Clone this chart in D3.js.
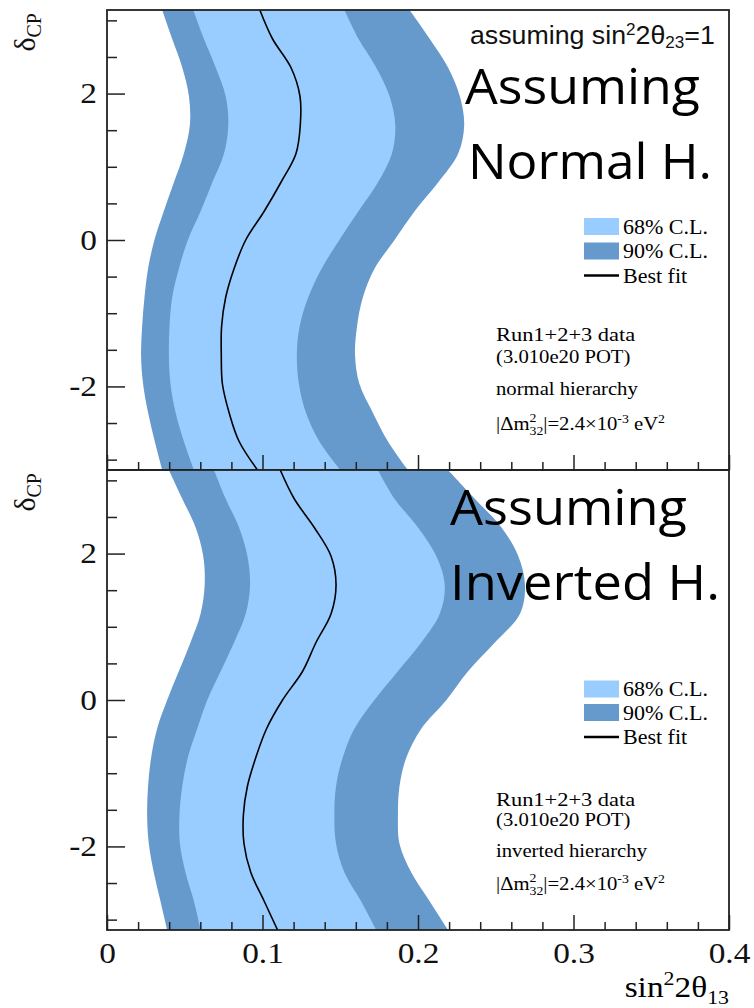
<!DOCTYPE html>
<html>
<head>
<meta charset="utf-8">
<script src="https://cdn.jsdelivr.net/npm/d3@7"></script>
<style>
  body { margin: 0; background: #fff; }
  svg { display: block; }
</style>
</head>
<body>
<svg id="chart" width="754" height="1008"></svg>
<script>
// delta_CP sample points (radians), from +pi down to -pi
const deltaGrid = [3.1416, 2.7489, 2.3562, 1.9635, 1.5708, 1.1781, 0.7854, 0.3927, 0,
  -0.3927, -0.7854, -1.1781, -1.5708, -1.9635, -2.3562, -2.7489, -3.1416];

// Normal hierarchy: sin^2(2 theta13) at each delta_CP
const nh90Left  = [0.0355, 0.0419, 0.0484, 0.0527, 0.0533, 0.0494, 0.0430, 0.0365, 0.0305, 0.0264, 0.0241, 0.0226, 0.0219, 0.0232, 0.0264, 0.0307, 0.0355];
const nh68Left  = [0.0555, 0.0623, 0.0699, 0.0763, 0.0780, 0.0752, 0.0677, 0.0602, 0.0520, 0.0462, 0.0419, 0.0402, 0.0398, 0.0408, 0.0441, 0.0494, 0.0559];
const nhBestFit = [0.0983, 0.1064, 0.1183, 0.1241, 0.1243, 0.1215, 0.1118, 0.1011, 0.0892, 0.0817, 0.0763, 0.0737, 0.0735, 0.0742, 0.0785, 0.0849, 0.0968];
const nh68Right = [0.1527, 0.1617, 0.1731, 0.1817, 0.1854, 0.1832, 0.1742, 0.1617, 0.1494, 0.1380, 0.1294, 0.1239, 0.1221, 0.1234, 0.1279, 0.1365, 0.1501];
const nh90Right = [0.1946, 0.2075, 0.2193, 0.2269, 0.2297, 0.2258, 0.2129, 0.1978, 0.1849, 0.1720, 0.1645, 0.1608, 0.1595, 0.1623, 0.1709, 0.1806, 0.1935];

// Inverted hierarchy
const ih90Left  = [0.0398, 0.0484, 0.0570, 0.0619, 0.0628, 0.0602, 0.0537, 0.0462, 0.0387, 0.0322, 0.0284, 0.0264, 0.0258, 0.0269, 0.0301, 0.0344, 0.0387];
const ih68Left  = [0.0688, 0.0763, 0.0849, 0.0903, 0.0920, 0.0892, 0.0817, 0.0731, 0.0645, 0.0580, 0.0520, 0.0484, 0.0466, 0.0469, 0.0505, 0.0559, 0.0602];
const ihBestFit = [0.1114, 0.1204, 0.1333, 0.1441, 0.1473, 0.1441, 0.1344, 0.1258, 0.1129, 0.1026, 0.0957, 0.0903, 0.0877, 0.0881, 0.0925, 0.1011, 0.1097];
const ih68Right = [0.1742, 0.1849, 0.2000, 0.2118, 0.2172, 0.2140, 0.2021, 0.1871, 0.1720, 0.1591, 0.1516, 0.1473, 0.1462, 0.1473, 0.1527, 0.1634, 0.1731];
const ih90Right = [0.2193, 0.2365, 0.2537, 0.2645, 0.2688, 0.2656, 0.2494, 0.2322, 0.2183, 0.2021, 0.1925, 0.1881, 0.1871, 0.1881, 0.1957, 0.2075, 0.2193];

// Axis ticks
const xTicks = [0, 0.1, 0.2, 0.3, 0.4];
const xMinorTicks = [0.02, 0.04, 0.06, 0.08, 0.12, 0.14, 0.16, 0.18, 0.22, 0.24, 0.26, 0.28, 0.32, 0.34, 0.36, 0.38];
const yTicks = [-2, 0, 2];
const yMinorTicks = [-3, -2.5, -1.5, -1, -0.5, 0.5, 1, 1.5, 2.5, 3];

const legendLabels = ["68% C.L.", "90% C.L.", "Best fit"];
const nhNotes = ["Run1+2+3 data", "(3.010e20 POT)", "normal hierarchy"];
const ihNotes = ["Run1+2+3 data", "(3.010e20 POT)", "inverted hierarchy"];

const C90 = "#6699cc", C68 = "#99ccff";
const SERIF = "'Liberation Serif', 'Times New Roman', serif";
const SX = 1.15; // horizontal stretch of serif lettering

const svg = d3.select("#chart");
const x = d3.scaleLinear().domain([0, 0.4]).range([107, 729]);

const panels = [
  { id: "nh", top: 10, bottom: 470,
    lo90: nh90Left, lo68: nh68Left, best: nhBestFit, hi68: nh68Right, hi90: nh90Right,
    title: ["Assuming", "Normal H."], titleX: [465, 468], titleY: [104, 179], titleW: [235, 244],
    legendY: [226.5, 251, 275.5], notes: nhNotes, noteY: [341, 363, 395, 430], xLabels: false },
  { id: "ih", top: 470, bottom: 930,
    lo90: ih90Left, lo68: ih68Left, best: ihBestFit, hi68: ih68Right, hi90: ih90Right,
    title: ["Assuming", "Inverted H."], titleX: [450, 450], titleY: [525, 600], titleW: [237, 270],
    legendY: [689, 712.5, 737], notes: ihNotes, noteY: [806, 826, 857, 890], xLabels: true }
];

function stretchedText(parent, X, Y, size, sx) {
  return parent.append("text")
    .attr("transform", `translate(${X},${Y}) scale(${sx},1)`)
    .attr("font-family", SERIF).attr("font-size", size).attr("fill", "#000");
}

function stretchAxisLabels(g, sx) {
  g.selectAll(".tick text").each(function () {
    const t = d3.select(this);
    const xv = +(t.attr("x") || 0);
    t.attr("x", xv / sx).attr("transform", `scale(${sx},1)`);
  });
}

panels.forEach(p => {
  const y = d3.scaleLinear().domain([-Math.PI, Math.PI]).range([p.bottom, p.top]);
  const g = svg.append("g").attr("class", "panel-" + p.id);

  const clipId = "clip-" + p.id;
  svg.append("defs").append("clipPath").attr("id", clipId)
    .append("rect").attr("x", x(0)).attr("y", p.top)
    .attr("width", x(0.4) - x(0)).attr("height", p.bottom - p.top);

  const rows = deltaGrid.map((d, i) => ({
    delta: d, lo90: p.lo90[i], lo68: p.lo68[i], best: p.best[i], hi68: p.hi68[i], hi90: p.hi90[i]
  }));

  const bands = g.append("g").attr("clip-path", `url(#${clipId})`);
  const area = (lo, hi) => d3.area()
    .y(d => y(d.delta)).x0(d => x(d[lo])).x1(d => x(d[hi]))
    .curve(d3.curveCatmullRom);
  bands.append("path").datum(rows).attr("d", area("lo90", "hi90")).attr("fill", C90);
  bands.append("path").datum(rows).attr("d", area("lo68", "hi68")).attr("fill", C68);
  bands.append("path").datum(rows)
    .attr("d", d3.line().x(d => x(d.best)).y(d => y(d.delta)).curve(d3.curveCatmullRom))
    .attr("fill", "none").attr("stroke", "#000").attr("stroke-width", 1.6);

  // Frame
  g.append("rect").attr("x", x(0)).attr("y", p.top)
    .attr("width", x(0.4) - x(0)).attr("height", p.bottom - p.top)
    .attr("fill", "none").attr("stroke", "#222").attr("stroke-width", 1.8);

  // Left axis
  const yMinor = g.append("g").attr("transform", `translate(${x(0)},0)`)
    .call(d3.axisLeft(y).tickValues(yMinorTicks).tickSize(-10).tickFormat(""));
  const yMajor = g.append("g").attr("transform", `translate(${x(0)},0)`)
    .call(d3.axisLeft(y).tickValues(yTicks).tickSize(-18).tickPadding(10).tickFormat(d => String(d)));
  // Bottom axis
  const xMinor = g.append("g").attr("transform", `translate(0,${p.bottom})`)
    .call(d3.axisBottom(x).tickValues(xMinorTicks).tickSize(-8).tickFormat(""));
  const xMajor = g.append("g").attr("transform", `translate(0,${p.bottom})`)
    .call(d3.axisBottom(x).tickValues(xTicks).tickSize(-15).tickPadding(12)
      .tickFormat(p.xLabels ? (d => String(d)) : ""));

  [yMinor, yMajor, xMinor, xMajor].forEach(a => {
    a.select(".domain").remove();
    a.selectAll(".tick line").attr("stroke", "#222").attr("stroke-width", 1.5);
    a.attr("font-family", SERIF).attr("font-size", 29);
    a.selectAll(".tick text").attr("fill", "#111");
  });
  stretchAxisLabels(yMajor, SX);
  stretchAxisLabels(xMajor, SX);

  // delta_CP label
  const yl = g.append("text")
    .attr("transform", `translate(35,${p.top + 3}) rotate(-90)`)
    .attr("text-anchor", "end").attr("font-family", SERIF).attr("font-size", 30).attr("fill", "#111");
  yl.append("tspan").text("δ");
  yl.append("tspan").attr("font-size", 20).attr("dy", 6).text("CP");

  // Hierarchy title
  p.title.forEach((t, i) => {
    g.append("text").attr("x", p.titleX[i]).attr("y", p.titleY[i])
      .attr("font-family", "'Open Sans', 'Noto Sans', sans-serif").attr("font-size", 50)
      .attr("textLength", p.titleW[i]).attr("lengthAdjust", "spacingAndGlyphs")
      .attr("fill", "#000").text(t);
  });

  // Legend
  const lg = g.append("g");
  [C68, C90].forEach((c, i) => {
    lg.append("rect").attr("x", 584).attr("y", p.legendY[i] - 8.5)
      .attr("width", 35).attr("height", 17).attr("fill", c);
  });
  lg.append("line").attr("x1", 584).attr("x2", 619)
    .attr("y1", p.legendY[2]).attr("y2", p.legendY[2])
    .attr("stroke", "#000").attr("stroke-width", 2.5);
  legendLabels.forEach((t, i) => {
    stretchedText(lg, 623, p.legendY[i] + 7, 20, 1.1).text(t);
  });

  // Notes
  p.notes.forEach((t, i) => {
    stretchedText(g, 496, p.noteY[i], i === 0 ? 19.5 : 18, SX).text(t);
  });
  const dm = stretchedText(g, 496, p.noteY[3], 18, SX);
  dm.append("tspan").text("|Δm");
  dm.append("tspan").attr("font-size", 12).attr("dy", -8).text("2");
  dm.append("tspan").attr("font-size", 12).attr("dx", -6).attr("dy", 13).text("32");
  dm.append("tspan").attr("font-size", 18).attr("dy", -5).text("|=2.4×10");
  dm.append("tspan").attr("font-size", 12).attr("dy", -7).text("-3");
  dm.append("tspan").attr("font-size", 18).attr("dy", 7).text(" eV");
  dm.append("tspan").attr("font-size", 12).attr("dy", -7).text("2");
});

// sin^2(2 theta23) assumption
const asm = svg.append("text")
  .attr("transform", "translate(470,44) scale(1.07,1)")
  .attr("font-family", "'Liberation Sans', Arial, sans-serif").attr("font-size", 25).attr("fill", "#111");
asm.append("tspan").text("assuming sin");
asm.append("tspan").attr("font-size", 16).attr("dy", -9).text("2");
asm.append("tspan").attr("font-size", 25).attr("dy", 9).text("2θ");
asm.append("tspan").attr("font-size", 16).attr("dy", 4).text("23");
asm.append("tspan").attr("font-size", 25).attr("dy", -4).text("=1");

// x-axis title, right edge aligned with the axis end
const xt = svg.append("text")
  .attr("font-family", SERIF).attr("font-size", 29).attr("fill", "#000");
xt.append("tspan").text("sin");
xt.append("tspan").attr("font-size", 19).attr("dy", -12).text("2");
xt.append("tspan").attr("font-size", 29).attr("dy", 12).text("2θ");
xt.append("tspan").attr("font-size", 19).attr("dy", 7).text("13");
const xtWidth = xt.node().getBBox().width * SX;
xt.attr("transform", `translate(${x(0.4) - xtWidth},997) scale(${SX},1)`);
</script>
</body>
</html>
